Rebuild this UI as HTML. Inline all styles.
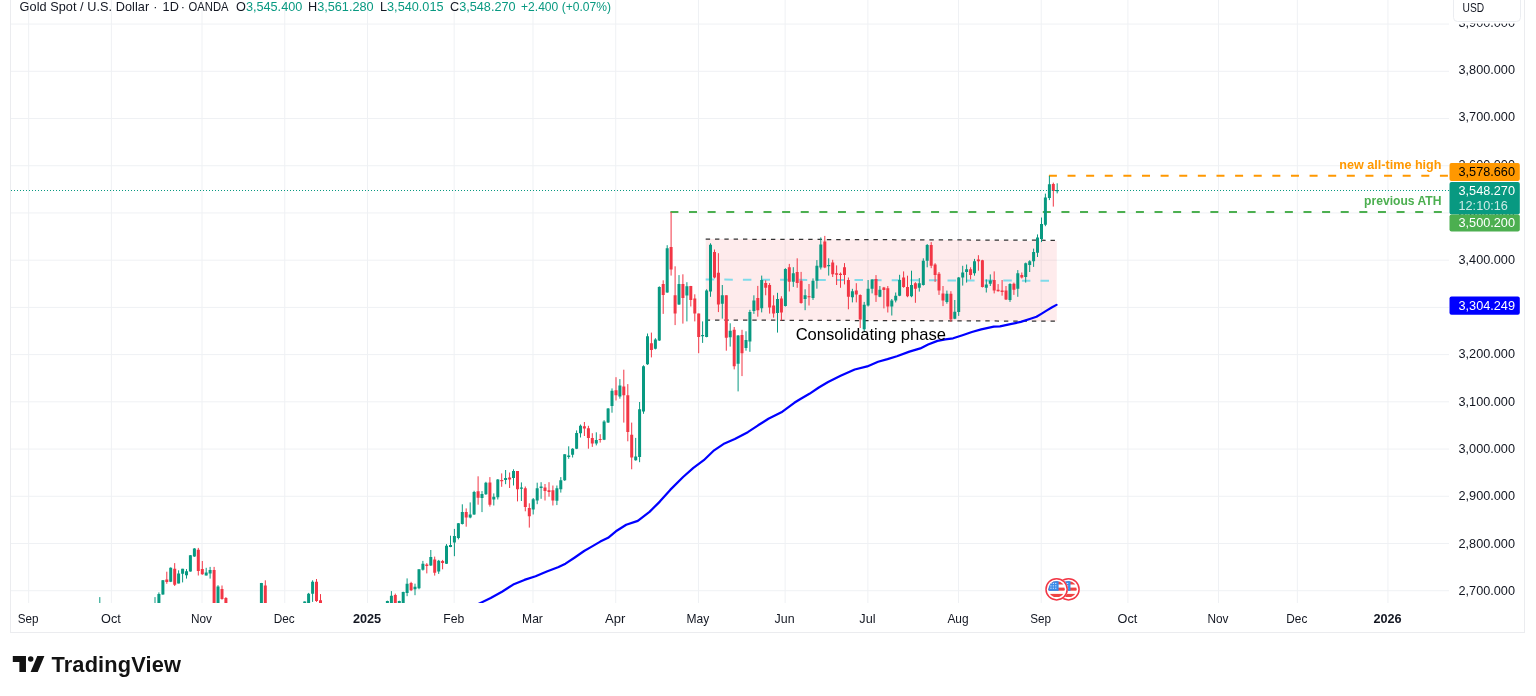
<!DOCTYPE html>
<html lang="en"><head><meta charset="utf-8"><title>Gold Spot / U.S. Dollar</title>
<style>
html,body{margin:0;padding:0;background:#fff;}
body{width:1536px;height:696px;position:relative;overflow:hidden;font-family:"Liberation Sans",sans-serif;}
svg text{font-family:"Liberation Sans",sans-serif;}
</style></head><body>
<svg width="1536" height="696" viewBox="0 0 1536 696" style="position:absolute;left:0;top:0">
<defs><clipPath id="plot"><rect x="11" y="0" width="1438" height="603"/></clipPath><clipPath id="flag"><circle cx="0" cy="0" r="8.2"/></clipPath></defs>
<path d="M28.65 0V603M111.39 0V603M202.01 0V603M284.75 0V603M367.49 0V603M454.17 0V603M532.97 0V603M615.71 0V603M698.45 0V603M785.13 0V603M867.87 0V603M958.49 0V603M1041.23 0V603M1127.91 0V603M1218.53 0V603M1297.33 0V603M1387.95 0V603M11 24.08H1449M11 71.30H1449M11 118.52H1449M11 165.74H1449M11 212.96H1449M11 260.18H1449M11 307.40H1449M11 354.62H1449M11 401.84H1449M11 449.06H1449M11 496.28H1449M11 543.50H1449M11 590.72H1449" stroke="#eff1f4" stroke-width="1" fill="none"/>
<path d="M10.5 0V632.5H1524.5V0" stroke="#ebecef" stroke-width="1" fill="none" shape-rendering="crispEdges"/>
<g clip-path="url(#plot)">
<polygon points="705.7,239.1 1056.8,240.3 1056.8,321.2 705.7,320" fill="#F23645" fill-opacity="0.1"/>
<path d="M705.7 279.55L1056.8 280.75" stroke="#7fdbea" stroke-width="2" stroke-dasharray="8.5 10.1" fill="none"/>
<path d="M705.7 239.1L1056.8 240.3M705.7 320L1056.8 321.2" stroke="#333" stroke-width="1.25" stroke-dasharray="4.4 4.92" fill="none"/>
<path d="M670.4 212H1449" stroke="#4CAF50" stroke-width="2" stroke-dasharray="8 10.62" fill="none"/>
<path d="M1048.9 175.8H1449" stroke="#FF9800" stroke-width="2" stroke-dasharray="8 10.62" fill="none"/>
<path d="M99.8 597.1V700.0M155.0 597.1V700.0M158.9 592.4V700.0M162.9 580.0V594.8M170.7 567.4V582.1M178.6 570.3V583.4M182.6 568.8V582.4M186.5 569.1V578.6M190.4 555.0V571.7M194.4 548.1V556.9M206.2 567.8V575.5M210.1 566.9V578.6M218.0 585.2V700.0M261.4 582.9V700.0M304.7 601.4V700.0M308.6 592.9V700.0M312.6 580.3V601.9M387.4 600.7V700.0M391.4 591.1V700.0M399.3 600.7V700.0M403.2 591.7V700.0M407.1 578.4V596.2M415.0 583.7V595.2M419.0 569.3V589.3M422.9 560.9V570.6M430.8 550.0V565.9M438.7 559.9V573.9M446.5 544.1V564.0M450.5 535.7V547.2M454.4 528.9V556.2M458.4 523.0V539.4M462.3 504.3V524.5M470.2 502.4V518.3M474.1 490.8V514.9M482.0 491.1V512.1M485.9 481.8V494.9M493.8 493.4V505.5M497.8 479.0V499.5M505.6 470.0V484.2M513.5 469.3V485.5M521.4 482.4V501.0M533.2 498.0V514.5M537.2 482.7V504.2M541.1 482.2V498.8M556.9 485.5V505.1M560.8 477.1V492.6M564.7 454.2V480.9M568.7 446.3V458.8M572.6 448.2V457.5M576.6 430.4V449.1M580.5 424.5V437.5M596.3 432.3V445.4M604.1 420.2V440.1M608.1 408.0V423.0M612.0 388.4V412.7M619.9 379.1V398.7M635.7 437.9V460.7M639.6 402.0V462.2M643.5 365.3V413.8M647.5 333.5V364.9M655.4 338.2V349.4M659.3 286.3V341.0M667.2 245.2V292.8M679.0 275.1V305.0M686.9 282.2V321.4M702.6 321.4V342.9M706.6 289.3V337.3M710.5 243.3V296.8M722.3 285.0V318.6M730.2 323.3V346.6M738.1 335.0V391.4M746.0 331.3V350.7M749.9 309.8V351.8M753.9 295.3V313.9M761.7 275.6V312.4M777.5 292.8V332.6M785.4 268.2V306.5M793.3 267.2V286.9M805.1 289.3V310.2M813.0 278.4V299.9M816.9 260.1V288.7M820.8 237.4V269.5M828.7 258.3V275.6M852.4 288.8V302.4M864.2 301.9V331.7M868.1 280.0V306.5M872.1 279.1V293.4M879.9 286.0V297.2M891.8 299.0V315.5M895.7 292.5V302.4M899.6 274.8V296.2M911.5 270.7V297.2M919.3 278.1V291.6M923.3 258.3V285.6M927.2 244.0V267.3M946.9 290.6V303.7M954.8 300.0V319.2M958.7 277.0V315.9M962.7 265.8V285.6M966.6 264.5V282.6M974.5 258.9V275.7M986.3 279.4V292.5M990.3 274.4V286.0M1010.0 283.2V301.9M1017.8 270.1V296.8M1025.7 262.6V282.6M1029.7 260.2V272.0M1033.6 248.6V266.9M1037.5 234.4V257.0M1041.5 217.5V242.1M1045.4 193.6V226.2M1049.4 175.9V200.1M1057.2 183.3V193.4" stroke="#089981" stroke-width="1" fill="none"/>
<path d="M166.8 571.7V583.8M174.7 563.1V586.0M198.3 547.9V575.5M202.3 561.0V574.8M214.1 566.9V700.0M222.0 585.5V599.7M225.9 597.1V700.0M265.3 580.3V700.0M316.5 579.0V601.9M320.5 594.1V700.0M395.3 593.6V700.0M411.1 581.8V591.1M426.8 563.1V573.4M434.7 556.6V575.6M442.6 559.9V569.3M466.2 508.4V526.7M478.1 476.3V504.7M489.9 477.1V506.6M501.7 473.4V486.8M509.6 472.5V488.0M517.5 471.0V501.4M525.3 486.5V511.3M529.3 503.3V527.6M545.0 484.0V500.5M549.0 482.2V496.7M552.9 485.5V505.5M584.4 422.0V436.0M588.4 425.8V448.7M592.3 433.2V446.9M600.2 434.2V442.6M616.0 377.2V400.5M623.8 369.7V422.6M627.8 384.1V441.3M631.7 422.6V469.3M651.4 332.6V357.4M663.2 280.3V313.9M671.1 212.1V275.6M675.1 266.3V325.1M682.9 274.3V323.6M690.8 285.9V306.5M694.8 294.3V321.4M698.7 313.6V353.2M714.5 249.5V278.4M718.4 253.2V312.1M726.3 295.3V350.7M734.2 327.0V369.4M742.0 329.8V376.1M757.8 285.9V316.7M765.7 280.3V295.3M769.6 283.1V313.6M773.6 295.3V317.7M781.4 296.2V320.5M789.3 263.9V291.5M797.2 258.3V287.8M801.1 271.9V303.7M809.0 284.0V305.5M824.8 235.9V268.2M832.7 259.8V277.0M836.6 265.4V285.0M840.5 272.5V287.8M844.5 263.1V284.4M848.4 277.5V309.3M856.3 283.2V302.4M860.2 294.4V328.0M876.0 275.1V301.9M883.9 286.9V308.4M887.8 286.0V312.5M903.6 271.4V287.8M907.5 275.7V297.2M915.4 282.2V302.8M931.2 242.1V268.2M935.1 263.2V281.9M939.0 272.0V294.9M943.0 286.0V306.1M950.9 291.2V321.8M970.6 267.3V279.4M978.4 255.2V270.7M982.4 259.8V287.5M994.2 271.4V293.4M998.1 284.1V291.6M1002.1 280.0V295.7M1006.0 286.0V300.0M1013.9 282.6V294.9M1021.8 272.5V278.5M1053.3 182.6V206.6" stroke="#F23645" stroke-width="1" fill="none"/>
<path d="M98.3 700.0h3V701.0h-3zM153.5 700.0h3V701.0h-3zM157.4 594.1h3V700.0h-3zM161.4 580.3h3V594.5h-3zM169.2 567.8h3V581.7h-3zM177.1 573.4h3V583.4h-3zM181.1 568.8h3V573.8h-3zM185.0 571.2h3V575.2h-3zM188.9 555.3h3V571.4h-3zM192.9 548.4h3V556.6h-3zM204.7 572.6h3V575.5h-3zM208.6 570.0h3V573.4h-3zM216.5 586.4h3V700.0h-3zM259.9 582.9h3V700.0h-3zM303.2 601.4h3V700.0h-3zM307.1 593.8h3V700.0h-3zM311.1 581.7h3V593.8h-3zM385.9 601.0h3V700.0h-3zM389.9 595.8h3V700.0h-3zM397.8 601.0h3V700.0h-3zM401.7 592.1h3V700.0h-3zM405.6 583.7h3V593.0h-3zM413.5 586.8h3V589.3h-3zM417.5 569.3h3V588.3h-3zM421.4 563.7h3V569.7h-3zM429.3 557.0h3V565.5h-3zM437.2 560.7h3V571.5h-3zM445.0 545.7h3V563.7h-3zM449.0 545.0h3V546.9h-3zM452.9 536.0h3V542.6h-3zM456.9 523.3h3V537.9h-3zM460.8 512.1h3V523.9h-3zM468.7 514.6h3V517.4h-3zM472.6 492.1h3V514.6h-3zM480.5 493.9h3V498.0h-3zM484.4 482.7h3V494.3h-3zM492.3 496.7h3V499.5h-3zM496.3 479.4h3V497.3h-3zM504.1 478.1h3V479.9h-3zM512.0 471.0h3V478.1h-3zM519.9 487.4h3V488.7h-3zM531.7 499.2h3V509.4h-3zM535.7 488.3h3V500.5h-3zM539.6 486.5h3V488.0h-3zM555.4 488.3h3V500.8h-3zM559.3 480.3h3V489.3h-3zM563.2 454.2h3V480.3h-3zM567.2 455.6h3V457.0h-3zM571.1 448.7h3V454.7h-3zM575.1 432.9h3V448.7h-3zM579.0 425.8h3V433.2h-3zM594.8 440.1h3V443.5h-3zM602.6 421.5h3V439.8h-3zM606.6 408.4h3V422.6h-3zM610.5 390.8h3V406.1h-3zM618.4 385.6h3V396.4h-3zM634.2 456.6h3V460.3h-3zM638.1 409.3h3V457.0h-3zM642.0 366.2h3V411.4h-3zM646.0 336.3h3V364.3h-3zM653.9 339.5h3V348.8h-3zM657.8 286.9h3V340.6h-3zM665.7 248.2h3V292.5h-3zM677.5 284.0h3V304.6h-3zM685.4 286.3h3V295.6h-3zM701.1 335.0h3V336.2h-3zM705.1 290.6h3V336.9h-3zM709.0 244.8h3V291.5h-3zM720.8 295.3h3V303.7h-3zM728.7 330.7h3V337.3h-3zM736.6 335.4h3V363.8h-3zM744.5 340.1h3V348.1h-3zM748.4 312.1h3V341.4h-3zM752.4 300.5h3V311.1h-3zM760.2 279.9h3V308.3h-3zM776.0 299.0h3V313.0h-3zM783.9 269.1h3V306.1h-3zM791.8 273.2h3V281.8h-3zM803.6 295.3h3V299.0h-3zM811.5 280.7h3V298.1h-3zM815.4 265.7h3V280.7h-3zM819.3 244.5h3V267.6h-3zM827.2 265.0h3V266.3h-3zM850.9 291.2h3V297.2h-3zM862.7 304.7h3V329.3h-3zM866.6 288.8h3V305.6h-3zM870.6 279.4h3V288.8h-3zM878.4 289.7h3V296.8h-3zM890.3 300.5h3V306.5h-3zM894.2 295.7h3V300.5h-3zM898.1 280.0h3V295.7h-3zM910.0 285.0h3V296.2h-3zM917.8 283.2h3V287.8h-3zM921.8 260.8h3V285.0h-3zM925.7 244.9h3V260.8h-3zM945.4 293.8h3V301.9h-3zM953.3 311.8h3V318.7h-3zM957.2 277.6h3V312.1h-3zM961.2 272.5h3V277.6h-3zM965.1 269.2h3V272.0h-3zM973.0 261.3h3V273.3h-3zM984.8 284.5h3V287.8h-3zM988.8 280.4h3V283.7h-3zM1008.5 284.1h3V300.0h-3zM1016.3 273.3h3V288.8h-3zM1024.2 263.2h3V277.0h-3zM1028.2 261.3h3V265.1h-3zM1032.1 252.0h3V261.3h-3zM1036.0 237.6h3V252.8h-3zM1040.0 224.0h3V238.9h-3zM1043.9 197.5h3V224.7h-3zM1047.9 184.3h3V198.1h-3zM1055.7 190.0h3V191.3h-3z" fill="#089981"/>
<path d="M165.3 579.5h3V582.1h-3zM173.2 568.8h3V584.7h-3zM196.8 549.8h3V570.9h-3zM200.8 569.1h3V574.3h-3zM212.6 570.0h3V700.0h-3zM220.5 589.0h3V599.0h-3zM224.4 597.9h3V700.0h-3zM263.8 585.5h3V700.0h-3zM315.0 581.7h3V601.0h-3zM319.0 600.2h3V700.0h-3zM393.8 594.9h3V700.0h-3zM409.6 583.1h3V590.2h-3zM425.3 564.4h3V565.9h-3zM433.2 559.4h3V572.8h-3zM441.1 560.9h3V563.1h-3zM464.7 512.1h3V517.4h-3zM476.6 491.2h3V497.7h-3zM488.4 482.4h3V504.8h-3zM500.2 479.9h3V481.2h-3zM508.1 477.5h3V479.4h-3zM516.0 471.0h3V489.3h-3zM523.8 488.3h3V507.0h-3zM527.8 507.9h3V516.3h-3zM543.5 487.4h3V491.1h-3zM547.5 490.2h3V492.1h-3zM551.4 490.2h3V500.5h-3zM582.9 426.3h3V428.6h-3zM586.9 428.2h3V437.9h-3zM590.8 437.9h3V443.5h-3zM598.7 439.0h3V440.1h-3zM614.5 390.3h3V395.3h-3zM622.3 386.5h3V395.3h-3zM626.3 395.3h3V431.9h-3zM630.2 434.7h3V457.5h-3zM649.9 343.2h3V349.9h-3zM661.7 284.0h3V294.9h-3zM669.6 247.1h3V269.5h-3zM673.6 295.3h3V313.6h-3zM681.4 284.0h3V298.1h-3zM689.3 285.9h3V299.9h-3zM693.3 298.6h3V313.6h-3zM697.2 313.6h3V336.9h-3zM713.0 251.9h3V277.5h-3zM716.9 272.8h3V304.6h-3zM724.8 295.3h3V337.7h-3zM732.7 329.8h3V366.2h-3zM740.5 335.0h3V353.2h-3zM756.3 298.1h3V310.2h-3zM764.2 283.1h3V287.8h-3zM768.1 285.0h3V307.4h-3zM772.1 305.5h3V313.6h-3zM779.9 298.6h3V312.4h-3zM787.8 267.2h3V281.8h-3zM795.7 271.9h3V283.1h-3zM799.6 280.7h3V303.1h-3zM807.5 296.2h3V297.2h-3zM823.3 241.5h3V267.6h-3zM831.2 262.6h3V274.3h-3zM835.1 273.2h3V274.7h-3zM839.0 273.8h3V275.1h-3zM843.0 267.2h3V275.1h-3zM846.9 279.9h3V296.8h-3zM854.8 290.6h3V294.4h-3zM858.7 294.9h3V319.6h-3zM874.5 278.9h3V295.3h-3zM882.4 287.5h3V290.1h-3zM886.3 288.2h3V306.5h-3zM902.1 277.6h3V286.9h-3zM906.0 286.9h3V296.2h-3zM913.9 283.2h3V288.8h-3zM929.7 244.9h3V265.8h-3zM933.6 264.5h3V275.1h-3zM937.5 273.8h3V290.6h-3zM941.5 293.4h3V300.5h-3zM949.4 293.8h3V319.6h-3zM969.1 269.2h3V275.1h-3zM976.9 259.5h3V261.3h-3zM980.9 260.2h3V286.9h-3zM992.7 280.0h3V290.6h-3zM996.6 289.7h3V291.2h-3zM1000.6 290.6h3V292.0h-3zM1004.5 290.6h3V299.4h-3zM1012.4 283.7h3V289.7h-3zM1020.3 275.1h3V277.6h-3zM1051.8 183.9h3V191.0h-3z" fill="#F23645"/>
<polyline points="470.0,608.0 481.0,602.7 490.7,598.0 502.0,591.7 513.2,584.6 524.4,579.9 535.6,576.2 546.8,571.5 558.0,567.2 565.5,563.7 574.8,557.5 584.1,551.0 590.0,547.6 600.3,541.6 608.1,537.8 615.9,531.3 626.2,524.8 637.8,520.9 649.5,511.9 659.8,501.6 670.2,489.9 683.1,477.0 693.4,467.9 703.8,460.2 714.1,450.3 724.5,443.4 734.8,439.0 747.8,432.2 758.1,425.3 768.4,418.8 781.4,412.3 794.3,402.8 800.0,399.2 809.4,393.8 818.8,387.5 828.1,382.0 840.6,375.8 854.7,369.5 867.2,366.4 878.1,361.7 887.5,359.1 896.9,356.2 909.4,351.6 920.3,348.4 928.1,344.5 937.5,340.9 945.3,339.4 953.1,338.3 962.5,335.2 971.9,332.0 981.2,329.4 993.8,326.6 1000.0,326.3 1010.4,324.2 1020.8,321.9 1031.2,318.5 1036.5,316.7 1041.7,313.6 1046.9,310.4 1052.1,307.3 1056.5,304.9" stroke="#0000FF" stroke-width="2.2" fill="none" stroke-linejoin="round" stroke-linecap="round"/>
<path d="M11 190.5H1449" stroke="#089981" stroke-width="1" stroke-dasharray="1 2" fill="none" shape-rendering="crispEdges"/>
<text x="946" y="340" text-anchor="end" font-size="16.6" fill="#000">Consolidating phase</text>
<text x="1441.5" y="168.7" text-anchor="end" font-size="12.6" font-weight="bold" fill="#FF9800">new all-time high</text>
<text x="1441.5" y="205.1" text-anchor="end" font-size="12.6" font-weight="bold" fill="#4CAF50" textLength="77.4" lengthAdjust="spacingAndGlyphs">previous ATH</text>
<g transform="translate(1068.5 589.3)"><circle r="11.3" fill="#fff"/><circle r="10.6" fill="none" stroke="#F23645" stroke-width="1.5"/><g clip-path="url(#flag)"><rect x="-9" y="-9" width="18" height="18" fill="#fff"/><rect x="-9" y="-7.90" width="18" height="3.1" fill="#ef4444"/><rect x="-9" y="-1.70" width="18" height="3.1" fill="#ef4444"/><rect x="-9" y="4.60" width="18" height="3.1" fill="#ef4444"/><rect x="-9" y="-9" width="11" height="10.6" fill="#3b8be8"/><rect x="-6.2" y="-6.4" width="1.1" height="1.1" fill="#dbeafe"/><rect x="-3.8" y="-6.4" width="1.1" height="1.1" fill="#dbeafe"/><rect x="-1.4" y="-6.4" width="1.1" height="1.1" fill="#dbeafe"/><rect x="-6.2" y="-4.0" width="1.1" height="1.1" fill="#dbeafe"/><rect x="-3.8" y="-4.0" width="1.1" height="1.1" fill="#dbeafe"/><rect x="-1.4" y="-4.0" width="1.1" height="1.1" fill="#dbeafe"/><rect x="-6.2" y="-1.6" width="1.1" height="1.1" fill="#dbeafe"/><rect x="-3.8" y="-1.6" width="1.1" height="1.1" fill="#dbeafe"/><rect x="-1.4" y="-1.6" width="1.1" height="1.1" fill="#dbeafe"/></g></g>
<g transform="translate(1056.6 589.3)"><circle r="11.3" fill="#fff"/><circle r="10.6" fill="none" stroke="#F23645" stroke-width="1.5"/><g clip-path="url(#flag)"><rect x="-9" y="-9" width="18" height="18" fill="#fff"/><rect x="-9" y="-7.90" width="18" height="3.1" fill="#ef4444"/><rect x="-9" y="-1.70" width="18" height="3.1" fill="#ef4444"/><rect x="-9" y="4.60" width="18" height="3.1" fill="#ef4444"/><rect x="-9" y="-9" width="11" height="10.6" fill="#3b8be8"/><rect x="-6.2" y="-6.4" width="1.1" height="1.1" fill="#dbeafe"/><rect x="-3.8" y="-6.4" width="1.1" height="1.1" fill="#dbeafe"/><rect x="-1.4" y="-6.4" width="1.1" height="1.1" fill="#dbeafe"/><rect x="-6.2" y="-4.0" width="1.1" height="1.1" fill="#dbeafe"/><rect x="-3.8" y="-4.0" width="1.1" height="1.1" fill="#dbeafe"/><rect x="-1.4" y="-4.0" width="1.1" height="1.1" fill="#dbeafe"/><rect x="-6.2" y="-1.6" width="1.1" height="1.1" fill="#dbeafe"/><rect x="-3.8" y="-1.6" width="1.1" height="1.1" fill="#dbeafe"/><rect x="-1.4" y="-1.6" width="1.1" height="1.1" fill="#dbeafe"/></g></g>
</g>
<text x="19.6" y="11.3" font-size="12.7" fill="#131722" textLength="129.6" lengthAdjust="spacing">Gold Spot / U.S. Dollar</text>
<text x="153.3" y="11.3" font-size="12.7" fill="#131722">·</text>
<text x="162.6" y="11.3" font-size="12.7" fill="#131722">1D</text>
<text x="180.8" y="11.3" font-size="12.7" fill="#131722">·</text>
<text x="188.6" y="11.3" font-size="12.7" fill="#131722" textLength="40" lengthAdjust="spacingAndGlyphs">OANDA</text>
<text x="236.0" y="11.3" font-size="12.7" fill="#131722">O<tspan fill="#089981">3,545.400</tspan></text>
<text x="308.0" y="11.3" font-size="12.7" fill="#131722">H<tspan fill="#089981">3,561.280</tspan></text>
<text x="380.0" y="11.3" font-size="12.7" fill="#131722">L<tspan fill="#089981">3,540.015</tspan></text>
<text x="450.0" y="11.3" font-size="12.7" fill="#131722">C<tspan fill="#089981">3,548.270</tspan></text>
<text x="521" y="11.3" font-size="12.7" fill="#089981" textLength="90" lengthAdjust="spacingAndGlyphs">+2.400 (+0.07%)</text>
<text x="1458.5" y="26.7" font-size="12.7" fill="#131722">3,900.000</text>
<text x="1458.5" y="74.0" font-size="12.7" fill="#131722">3,800.000</text>
<text x="1458.5" y="121.4" font-size="12.7" fill="#131722">3,700.000</text>
<text x="1458.5" y="168.8" font-size="12.7" fill="#131722">3,600.000</text>
<text x="1458.5" y="216.2" font-size="12.7" fill="#131722">3,500.000</text>
<text x="1458.5" y="263.5" font-size="12.7" fill="#131722">3,400.000</text>
<text x="1458.5" y="310.9" font-size="12.7" fill="#131722">3,300.000</text>
<text x="1458.5" y="358.3" font-size="12.7" fill="#131722">3,200.000</text>
<text x="1458.5" y="405.7" font-size="12.7" fill="#131722">3,100.000</text>
<text x="1458.5" y="453.0" font-size="12.7" fill="#131722">3,000.000</text>
<text x="1458.5" y="500.4" font-size="12.7" fill="#131722">2,900.000</text>
<text x="1458.5" y="547.8" font-size="12.7" fill="#131722">2,800.000</text>
<text x="1458.5" y="595.2" font-size="12.7" fill="#131722">2,700.000</text>
<rect x="1450" y="0" width="74" height="23.6" fill="#fff"/>
<rect x="1453.5" y="-4" width="67" height="25.5" rx="4" fill="#fff" stroke="#ebedf1" stroke-width="1"/>
<text x="1462.6" y="12.4" font-size="13.2" fill="#131722" textLength="21.6" lengthAdjust="spacingAndGlyphs">USD</text>
<rect x="1449.5" y="163.1" width="70.3" height="17.8" rx="2" fill="#FF9800"/><text x="1458.5" y="176.0" font-size="12.7" fill="#000" fill-opacity="1">3,578.660</text>
<rect x="1449.5" y="182.0" width="70.3" height="32.4" rx="2" fill="#089981"/><text x="1458.5" y="194.7" font-size="12.7" fill="#fff" fill-opacity="1">3,548.270</text><text x="1458.5" y="209.8" font-size="12.7" fill="#fff" fill-opacity="0.8">12:10:16</text>
<rect x="1449.5" y="214.4" width="70.3" height="17.2" rx="2" fill="#4CAF50"/><text x="1458.5" y="227.0" font-size="12.7" fill="#fff" fill-opacity="1">3,500.200</text>
<rect x="1449.5" y="296.6" width="70.3" height="18.1" rx="2" fill="#0000FF"/><text x="1458.5" y="309.9" font-size="12.7" fill="#fff" fill-opacity="1">3,304.249</text>
<text x="28.1" y="622.6" text-anchor="middle" font-size="12.7" fill="#131722" textLength="20.8" lengthAdjust="spacingAndGlyphs">Sep</text>
<text x="110.9" y="622.6" text-anchor="middle" font-size="12.7" fill="#131722">Oct</text>
<text x="201.5" y="622.6" text-anchor="middle" font-size="12.7" fill="#131722" textLength="21" lengthAdjust="spacingAndGlyphs">Nov</text>
<text x="284.2" y="622.6" text-anchor="middle" font-size="12.7" fill="#131722" textLength="21" lengthAdjust="spacingAndGlyphs">Dec</text>
<text x="367.0" y="622.6" text-anchor="middle" font-size="12.7" fill="#131722" font-weight="bold">2025</text>
<text x="453.7" y="622.6" text-anchor="middle" font-size="12.7" fill="#131722" textLength="21" lengthAdjust="spacingAndGlyphs">Feb</text>
<text x="532.5" y="622.6" text-anchor="middle" font-size="12.7" fill="#131722" textLength="20.8" lengthAdjust="spacingAndGlyphs">Mar</text>
<text x="615.2" y="622.6" text-anchor="middle" font-size="12.7" fill="#131722" textLength="20.3" lengthAdjust="spacingAndGlyphs">Apr</text>
<text x="697.9" y="622.6" text-anchor="middle" font-size="12.7" fill="#131722" textLength="22.7" lengthAdjust="spacingAndGlyphs">May</text>
<text x="784.6" y="622.6" text-anchor="middle" font-size="12.7" fill="#131722" textLength="20" lengthAdjust="spacingAndGlyphs">Jun</text>
<text x="867.4" y="622.6" text-anchor="middle" font-size="12.7" fill="#131722">Jul</text>
<text x="958.0" y="622.6" text-anchor="middle" font-size="12.7" fill="#131722" textLength="21.2" lengthAdjust="spacingAndGlyphs">Aug</text>
<text x="1040.7" y="622.6" text-anchor="middle" font-size="12.7" fill="#131722" textLength="20.8" lengthAdjust="spacingAndGlyphs">Sep</text>
<text x="1127.4" y="622.6" text-anchor="middle" font-size="12.7" fill="#131722">Oct</text>
<text x="1218.0" y="622.6" text-anchor="middle" font-size="12.7" fill="#131722" textLength="21" lengthAdjust="spacingAndGlyphs">Nov</text>
<text x="1296.8" y="622.6" text-anchor="middle" font-size="12.7" fill="#131722" textLength="21" lengthAdjust="spacingAndGlyphs">Dec</text>
<text x="1387.5" y="622.6" text-anchor="middle" font-size="12.7" fill="#131722" font-weight="bold">2026</text>
<g transform="translate(12.8 652.4) scale(0.89)" fill="#131313"><path d="M14.8 22H7.4V10.9H0V4h14.8z"/><circle cx="20.1" cy="7.4" r="3.1"/><path d="M28 22h-8l7.5-18h8L28 22z"/></g>
<text x="51.5" y="671.6" font-size="21.8" font-weight="bold" fill="#131313" letter-spacing="0.14">TradingView</text>
</svg>
</body></html>
